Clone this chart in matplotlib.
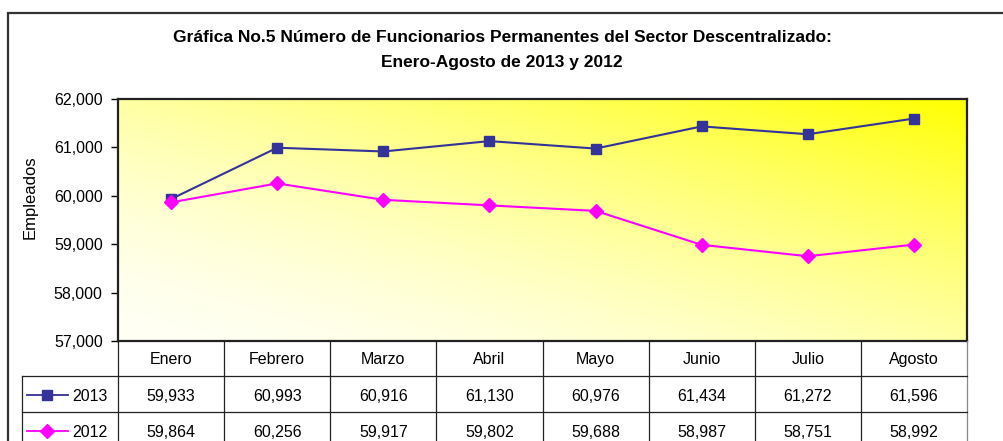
import numpy as np
import matplotlib
matplotlib.use("Agg")
import matplotlib.pyplot as plt
from matplotlib.lines import Line2D
from matplotlib.patches import Rectangle
from matplotlib.transforms import blended_transform_factory
from matplotlib.ticker import FuncFormatter

months = ["Enero", "Febrero", "Marzo", "Abril", "Mayo", "Junio", "Julio", "Agosto"]
series_names = ["2013", "2012"]
values_2013 = [59933, 60993, 60916, 61130, 60976, 61434, 61272, 61596]
values_2012 = [59864, 60256, 59917, 59802, 59688, 58987, 58751, 58992]
y_ticks = [57000, 58000, 59000, 60000, 61000, 62000]
title_lines = ["Gráfica No.5 Número de Funcionarios Permanentes del Sector Descentralizado:",
               "Enero-Agosto de 2013 y 2012"]
y_label = "Empleados"

W, H = 1004, 441
plt.rcParams['font.family'] = ['Liberation Sans', 'DejaVu Sans']
fig = plt.figure(figsize=(W / 100, H / 100), dpi=100)

def fx(px):
    return px / W

def fy(py):
    return 1 - py / H

# outer chart frame
fig.add_artist(Rectangle((fx(8), fy(500)), fx(1100), fy(13) - fy(500), transform=fig.transFigure,
                         fill=False, edgecolor='#333333', lw=1.6, zorder=0))

L, R, T, B = 118, 967, 99, 341
ax = fig.add_axes([fx(L), fy(B), fx(R - L), fy(T) - fy(B)])

# gradient background
nx, ny = 300, 100
u = np.linspace(0, 1, nx)[None, :]
v = np.linspace(0, 1, ny)[:, None]
t = np.clip((u + v) / 2, 0, 1) ** 1.6
pale = np.array([255, 255, 245]) / 255
yel = np.array([255, 255, 0]) / 255
img = pale[None, None, :] * (1 - t[..., None]) + yel[None, None, :] * t[..., None]
ax.imshow(img, extent=[0, 1, 0, 1], origin='lower', transform=ax.transAxes,
          aspect='auto', zorder=0, interpolation='bilinear')

x = np.arange(len(months))
c13 = '#333399'
c12 = '#FF00FF'
ax.plot(x, values_2013, color=c13, lw=1.5, marker='s', ms=7, zorder=3)
ax.plot(x, values_2012, color=c12, lw=1.5, marker='D', ms=7.5, zorder=3)

ax.set_xlim(-0.5, len(months) - 0.5)
ax.set_ylim(y_ticks[0], y_ticks[-1])
ax.set_yticks(y_ticks)
ax.yaxis.set_major_formatter(FuncFormatter(lambda v, p: f"{int(v):,}"))
ax.set_xticks([])
ax.tick_params(axis='y', direction='out', length=5, width=1, pad=6, labelsize=11.5)
for s in ax.spines.values():
    s.set_linewidth(1.6)
    s.set_color('#222222')

# titles
fig.text(0.5, fy(38), title_lines[0], ha='center', va='center', fontsize=12.5, fontweight='bold')
fig.text(0.5, fy(63), title_lines[1], ha='center', va='center', fontsize=12.5, fontweight='bold')
fig.text(fx(30), fy(197), y_label, rotation=90, ha='center', va='center', fontsize=12)

# data table
tr = blended_transform_factory(ax.transData, fig.transFigure)
row_tops = [341, 376, 412, 448]
lc = '#222222'
n = len(months)
for i in range(n + 1):
    xe = i - 0.5
    fig.add_artist(Line2D([xe, xe], [fy(341), fy(460)], transform=tr, color=lc if i < n else '#888888', lw=0.9))
for yy in [376, 412]:
    fig.add_artist(Line2D([fx(22), fx(R)], [fy(yy), fy(yy)], transform=fig.transFigure, color=lc, lw=0.9))
fig.add_artist(Line2D([fx(22), fx(22)], [fy(376), fy(460)], transform=fig.transFigure, color=lc, lw=0.9))

for i, m in enumerate(months):
    fig.text(i, fy(358), m, transform=tr, ha='center', va='center_baseline', fontsize=11.5)
rows = [(series_names[0], values_2013, c13, 's', 7), (series_names[1], values_2012, c12, 'D', 7.5)]
for r, (name, vals, col, mk, ms) in enumerate(rows):
    yc = (row_tops[r + 1] + row_tops[r + 2]) / 2 + 1
    for i, v in enumerate(vals):
        fig.text(i, fy(yc), f"{v:,}", transform=tr, ha='center', va='center_baseline', fontsize=11.5)
    fig.add_artist(Line2D([fx(27), fx(68)], [fy(yc), fy(yc)], transform=fig.transFigure, color=col, lw=1.3))
    fig.add_artist(Line2D([fx(47)], [fy(yc)], transform=fig.transFigure, color=col, marker=mk, ms=ms, lw=0))
    fig.text(fx(72), fy(yc), name, ha='left', va='center_baseline', fontsize=11.5)

fig.savefig("out.png", dpi=100)
